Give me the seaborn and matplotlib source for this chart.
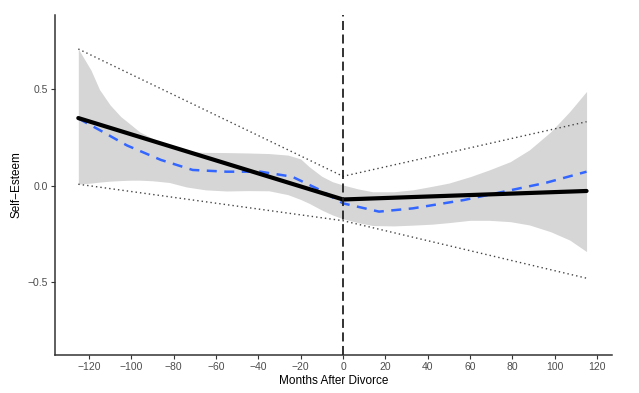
import numpy as np
import pandas as pd
import matplotlib
matplotlib.use("Agg")
import matplotlib.pyplot as plt
import seaborn as sns

# piecewise fitted line (black)
fit_x = [-125, 0, 115]
fit_y = [0.352, -0.07, -0.026]

# dotted bounds
upper_x = [-125, 0, 115]
upper_y = [0.71, 0.05, 0.333]
lower_x = [-125, 0, 115]
lower_y = [0.009, -0.18, -0.478]

# loess (blue dashed)
loess_x = [-125, -115, -102, -86, -71, -55, -39, -24, -11, 0, 17, 33, 57, 80, 96, 115]
loess_y = [0.35, 0.29, 0.21, 0.135, 0.083, 0.074, 0.074, 0.048, -0.02, -0.09,
           -0.133, -0.116, -0.073, -0.02, 0.017, 0.074]

# confidence band of the loess
band_x = [-125, -119, -115, -110, -105, -100, -96, -90, -82, -74, -65, -55, -45, -35,
          -26, -20, -16, -10, -5, 0, 7, 14, 24, 33, 42, 50, 60, 69, 79, 88, 98, 107, 115]
band_hi = [0.71, 0.60, 0.50, 0.42, 0.36, 0.316, 0.28, 0.247, 0.204, 0.178, 0.174, 0.173,
           0.171, 0.168, 0.16, 0.14, 0.10, 0.05, 0.022, 0.005, -0.015, -0.03, -0.03, -0.02,
           -0.002, 0.015, 0.048, 0.083, 0.126, 0.187, 0.28, 0.385, 0.49]
band_lo = [0.01, 0.015, 0.02, 0.025, 0.028, 0.03, 0.03, 0.027, 0.018, -0.005, -0.02, -0.026,
           -0.024, -0.025, -0.045, -0.07, -0.09, -0.125, -0.15, -0.17, -0.19, -0.205, -0.207,
           -0.203, -0.198, -0.19, -0.178, -0.178, -0.185, -0.202, -0.237, -0.28, -0.34]

sns.set_style("white")
plt.rcParams['font.family'] = ['Liberation Sans', 'DejaVu Sans']

fig = plt.figure(figsize=(6.39, 3.93), dpi=100)
ax = fig.add_axes([0.0861, 0.0967, 0.8716, 0.8651])

ax.fill_between(band_x, band_lo, band_hi, color='#d6d6d6', lw=0, zorder=1)

sns.lineplot(x=upper_x, y=upper_y, ax=ax, color='#444444', lw=1.0, linestyle=(0, (1, 2.2)), zorder=2)
sns.lineplot(x=lower_x, y=lower_y, ax=ax, color='#444444', lw=1.0, linestyle=(0, (1, 2.2)), zorder=2)
sns.lineplot(x=loess_x, y=loess_y, ax=ax, color='#3366FF', lw=1.8, linestyle=(0, (4, 3)), zorder=3)
sns.lineplot(x=fit_x, y=fit_y, ax=ax, color='black', lw=3.0, zorder=4)
ax.axvline(0, color='#222222', lw=1.3, linestyle=(0, (5, 2.5)), zorder=5)

ax.set_xlim(-136, 127)
ax.set_ylim(-0.876, 0.886)
ax.set_xticks(np.arange(-120, 121, 20))
ax.set_yticks([-0.5, 0.0, 0.5])
ax.set_yticklabels(['−0.5', '0.0', '0.5'])

for s in ['top', 'right']:
    ax.spines[s].set_visible(False)
for s in ['left', 'bottom']:
    ax.spines[s].set_color('#333333')
    ax.spines[s].set_linewidth(1.1)

ax.tick_params(axis='both', length=3, width=0.8, color='#333333',
               labelcolor='#4d4d4d', labelsize=7.5, pad=2, direction='out',
               bottom=True, left=True)

ax.set_xlabel('Months After Divorce', fontsize=8.5, color='black', labelpad=2)
ax.set_ylabel('Self−Esteem', fontsize=8.5, color='black', labelpad=4)

fig.savefig('out.png', dpi=100)
